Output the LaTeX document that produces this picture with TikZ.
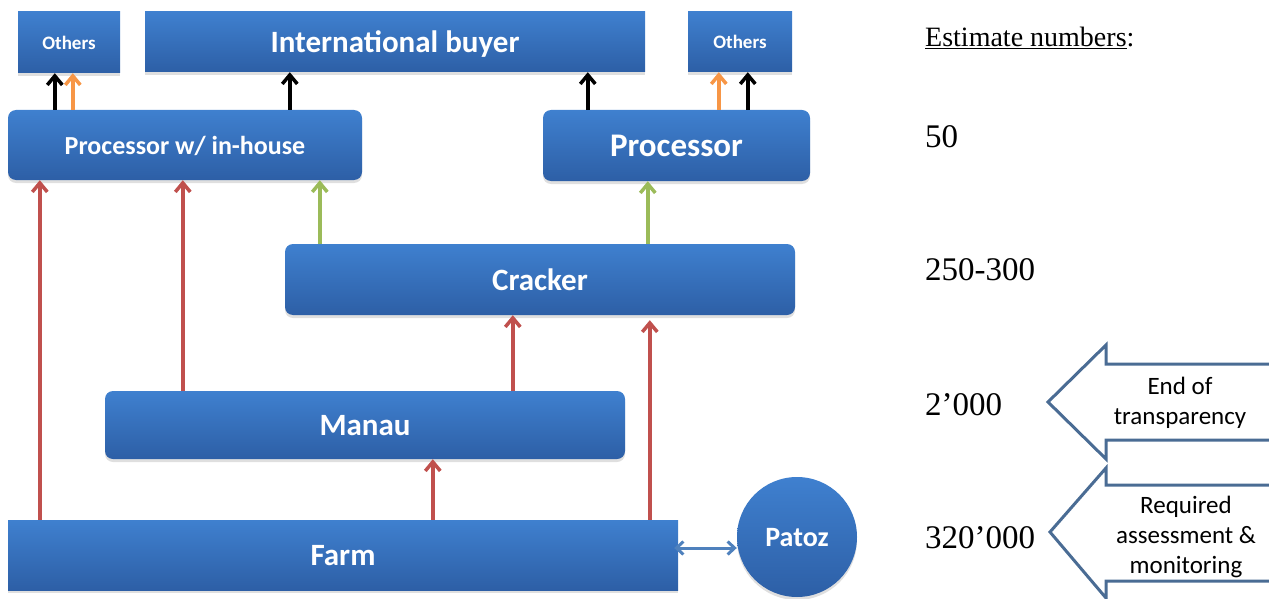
\documentclass[tikz,border=0pt]{standalone}
\usepackage{fontspec}
\setmainfont{Liberation Serif}
\newfontfamily\calfont{Carlito}
\usetikzlibrary{arrows.meta,shadows}
\definecolor{boxtop}{HTML}{3F80CF}
\definecolor{boxbot}{HTML}{2D5FA6}
\definecolor{redarr}{HTML}{C0504D}
\definecolor{grnarr}{HTML}{9BBB59}
\definecolor{orgarr}{HTML}{F79646}
\definecolor{bluarr}{HTML}{4F81BD}
\definecolor{bigarr}{HTML}{4A6C94}
\tikzset{
  box/.style={draw=none, top color=boxtop, bottom color=boxbot, text=white,
    font=\calfont\bfseries, inner sep=0pt, text depth=0pt,
    drop shadow={opacity=0.25, shadow xshift=0pt, shadow yshift=-3pt}},
  rbox/.style={box, rounded corners=8pt},
  fs/.style={font=\calfont\bfseries\fontsize{#1}{#1}\selectfont},
  tip/.style={-{Straight Barb[length=9pt,width=15pt,line width=3.5pt]}},
  blk/.style={tip, line width=4pt, black},
  org/.style={tip, line width=4pt, orgarr},
  redl/.style={tip, line width=3.5pt, redarr},
  grnl/.style={tip, line width=3.5pt, grnarr},
  numtxt/.style={anchor=west, inner sep=0pt, font=\fontsize{33}{33}\selectfont},
  bigarrow/.style={draw=bigarr, line width=3pt, fill=white, line join=miter},
  arrtxt/.style={align=center, inner sep=0pt, font=\calfont\fontsize{25}{30}\selectfont},
  dbl/.style={{Straight Barb[length=7pt,width=13pt,line width=3pt]}-{Straight Barb[length=7pt,width=13pt,line width=3pt]}, line width=3pt, bluarr}
}
\begin{document}
\begin{tikzpicture}[x=1pt,y=-1pt]
\useasboundingbox (0,0) rectangle (1269,599);
\begin{scope}
\clip (0,0) rectangle (1269,599);
% boxes
\node[box, minimum width=102pt, minimum height=61pt, fs=19] (oth1) at (69,42.5) {Others};
\node[box, minimum width=500pt, minimum height=60pt, fs=31] (ib) at (395,42) {International buyer};
\node[box, minimum width=104pt, minimum height=60pt, fs=19] (oth2) at (740,42) {Others};
\node[rbox, minimum width=354pt, minimum height=70pt, fs=26] (pin) at (185,145) {Processor w/ in-house};
\node[rbox, minimum width=267pt, minimum height=71pt, fs=33] (proc) at (676.5,145.5) {Processor};
\node[rbox, minimum width=510pt, minimum height=71pt, fs=31] (crk) at (540,279.5) {Cracker};
\node[rbox, minimum width=520pt, minimum height=68pt, fs=31] (man) at (365,425) {Manau};
\node[box, minimum width=670pt, minimum height=70pt, fs=31] (farm) at (343,555) {Farm};
\node[box, circle, minimum size=120pt, fs=28] (pat) at (797,537) {Patoz};
% arrows to top
\draw[blk] ([xshift=47]pin.north west) -- ([xshift=37]oth1.south west);
\draw[org] ([xshift=65]pin.north west) -- ([xshift=55]oth1.south west);
\draw[blk] ([xshift=282]pin.north west) -- ([xshift=145]ib.south west);
\draw[blk] ([xshift=45]proc.north west) -- ([xshift=443]ib.south west);
\draw[org] ([xshift=176]proc.north west) -- ([xshift=31]oth2.south west);
\draw[blk] ([xshift=205]proc.north west) -- ([xshift=60]oth2.south west);
% lower arrows
\draw[redl] ([xshift=32]farm.north west) -- ([xshift=32]pin.south west);
\draw[redl] ([xshift=78]man.north west) -- ([xshift=175]pin.south west);
\draw[grnl] ([xshift=35]crk.north west) -- ([xshift=312]pin.south west);
\draw[grnl] ([xshift=363]crk.north west) -- ([xshift=105]proc.south west);
\draw[redl] ([xshift=408]man.north west) -- ([xshift=228]crk.south west);
\draw[redl] ([xshift=642]farm.north west) -- ([xshift=365,yshift=-5]crk.south west);
\draw[redl] ([xshift=425]farm.north west) -- ([xshift=328]man.south west);
\draw[dbl] ([xshift=-4,yshift=7]farm.east) -- ([yshift=-11]pat.west);
% right side texts
\node[anchor=west, inner sep=0pt, font=\fontsize{28}{28}\selectfont] (hdr) at (925,38) {\underline{Estimate numbers}:};
\node[numtxt] (n1) at (925,137) {50};
\node[numtxt] (n2) at (925,270) {250-300};
\node[numtxt] (n3) at (925,405) {2’000};
\node[numtxt] (n4) at (925,538) {320’000};
% block arrows
\draw[bigarrow] (1048,402) -- (1106,345) -- (1106,364) -- (1290,364) -- (1290,440) -- (1106,440) -- (1106,459) -- cycle;
\node[arrtxt] (t1) at (1180,403) {End of\\transparency};
\draw[bigarrow] (1050,532) -- (1106,468) -- (1106,485) -- (1290,485) -- (1290,581) -- (1106,581) -- (1106,598) -- cycle;
\node[arrtxt] (t2) at (1186,537) {Required\\assessment \&\\monitoring};
\end{scope}
\end{tikzpicture}
\end{document}
